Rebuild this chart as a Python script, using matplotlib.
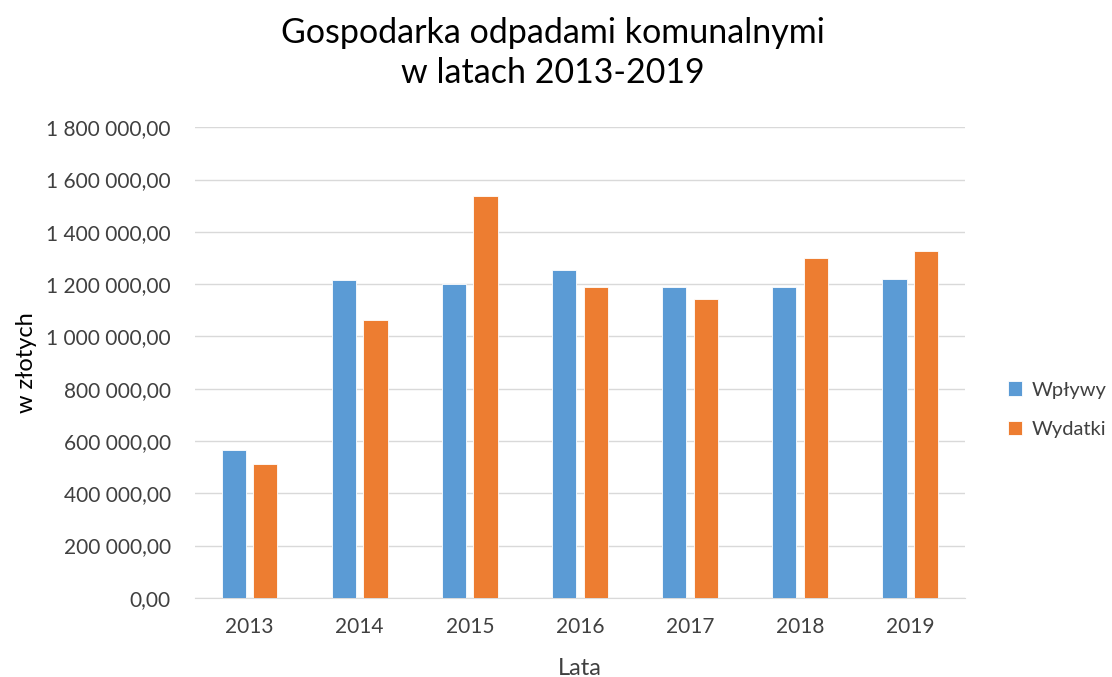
import matplotlib
matplotlib.use("Agg")
from matplotlib import pyplot as plt
from matplotlib.ticker import FuncFormatter
import numpy as np

plt.rcParams['font.family'] = ['Lato', 'DejaVu Sans']

# dane
lata = ['2013', '2014', '2015', '2016', '2017', '2018', '2019']
wplywy = [566000, 1214000, 1199000, 1254000, 1190000, 1190000, 1220000]
wydatki = [512000, 1063000, 1539000, 1190000, 1142000, 1299000, 1328000]

kolor_wplywy = '#5B9BD5'
kolor_wydatki = '#ED7D31'
tekst = '#404040'


def format_pl(v, pos):
    s = '{:,.2f}'.format(v)
    return s.replace(',', ' ').replace('.', ',')


fig = plt.figure(figsize=(11.12, 6.77), dpi=100)
ax = fig.add_axes([0.175, 0.117, 0.693, 0.695])

x = np.arange(len(lata))
szer = 0.22
ax.bar(x - 0.143, wplywy, szer, color=kolor_wplywy, edgecolor='#ffffff', linewidth=0.6, label='Wpływy', zorder=3)
ax.bar(x + 0.143, wydatki, szer, color=kolor_wydatki, edgecolor='#ffffff', linewidth=0.6, label='Wydatki', zorder=3)

ax.set_xlim(-0.5, len(lata) - 0.5)
ax.set_ylim(0, 1800000)
ax.set_yticks(np.arange(0, 1800001, 200000))
ax.yaxis.set_major_formatter(FuncFormatter(format_pl))
ax.set_xticks(x)
ax.set_xticklabels(lata)

ax.grid(axis='y', color='#d9d9d9', linewidth=1, zorder=0)
for s in ['top', 'right', 'left']:
    ax.spines[s].set_visible(False)
ax.spines['bottom'].set_color('#d9d9d9')
ax.tick_params(axis='both', length=0, labelsize=15, colors=tekst)
ax.tick_params(axis='y', pad=17)
ax.tick_params(axis='x', pad=14)

ax.set_xlabel('Lata', fontsize=17, color=tekst, labelpad=15)
ax.set_ylabel('w złotych', fontsize=17, color='#000000')
ax.yaxis.set_label_coords(-0.205, 0.5)

fig.text(0.497, 0.922, 'Gospodarka odpadami komunalnymi\nw latach 2013-2019',
         ha='center', va='center', fontsize=24.5, color='#000000', linespacing=1.3)

fig.legend(loc='center left', bbox_to_anchor=(0.89, 0.395), frameon=False,
           fontsize=14.5, labelcolor=tekst, handlelength=0.7, handleheight=0.7,
           handletextpad=0.5, labelspacing=1.1)

plt.savefig('out.png', dpi=100)
